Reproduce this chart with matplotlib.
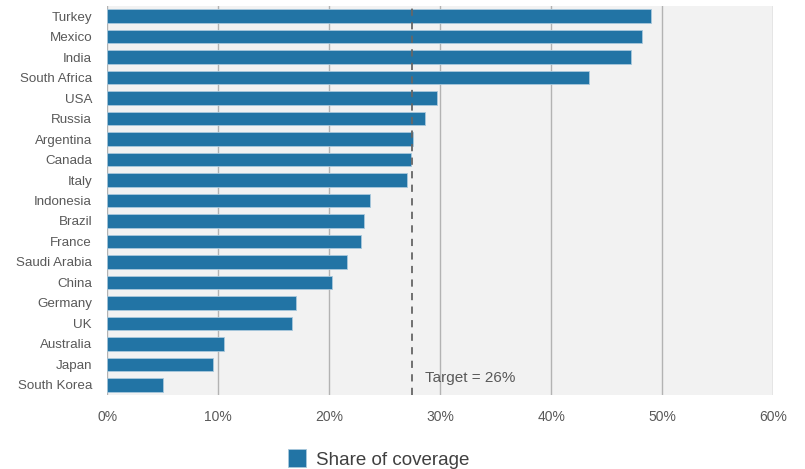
import matplotlib
matplotlib.use("Agg")
import matplotlib.pyplot as plt
from matplotlib.ticker import FuncFormatter

plt.rcParams["font.family"] = ["Liberation Sans", "DejaVu Sans"]

countries = ["Turkey", "Mexico", "India", "South Africa", "USA", "Russia",
             "Argentina", "Canada", "Italy", "Indonesia", "Brazil", "France",
             "Saudi Arabia", "China", "Germany", "UK", "Australia", "Japan",
             "South Korea"]
coverage = [49.0, 48.2, 47.2, 43.4, 29.7, 28.6, 27.5, 27.4, 27.0, 23.7, 23.1,
            22.9, 21.6, 20.2, 17.0, 16.6, 10.5, 9.5, 5.0]
target_line = 27.45
target_label = "Target = 26%"
x_ticks = [0, 10, 20, 30, 40, 50, 60]

bar_color = "#2274a5"
text_color = "#595959"

fig = plt.figure(figsize=(8.05, 4.69), dpi=100)
ax = fig.add_axes([0.1333, 0.1578, 0.8273, 0.8294])
ax.set_facecolor("#f2f2f2")

pos = list(range(len(countries)))
ax.barh(pos, coverage, height=0.66, color=bar_color, edgecolor="#a9c8dc",
        linewidth=0.6, zorder=3, label="Share of coverage")
ax.set_ylim(len(countries) - 0.5, -0.5)
ax.set_yticks(pos)
ax.set_yticklabels(countries)

ax.set_xlim(0, 60)
ax.set_xticks(x_ticks)
ax.xaxis.set_major_formatter(FuncFormatter(lambda v, p: f"{v:.0f}%"))
ax.grid(axis="x", color="#b3b3b3", linewidth=1.0, zorder=1)
ax.grid(axis="y", visible=False)

for s in ax.spines.values():
    s.set_visible(False)
ax.tick_params(axis="both", length=0, labelsize=10, labelcolor=text_color)
ax.tick_params(axis="y", pad=11, labelsize=9.6)
ax.tick_params(axis="x", pad=11)

# target line
ax.axvline(target_line, color="#666666", linestyle=(0, (4, 3.5)), linewidth=1.3,
           zorder=4)
ax.text(target_line + 1.2, 17.65, target_label, fontsize=11, color=text_color,
        va="center", ha="left", zorder=5)

leg = fig.legend(loc="lower center", bbox_to_anchor=(0.47, -0.035), frameon=False,
                 fontsize=13.5, handlelength=1.0, handleheight=1.1,
                 handletextpad=0.5)
for t in leg.get_texts():
    t.set_color("#404040")

fig.savefig("out.png", dpi=100, facecolor="white")
